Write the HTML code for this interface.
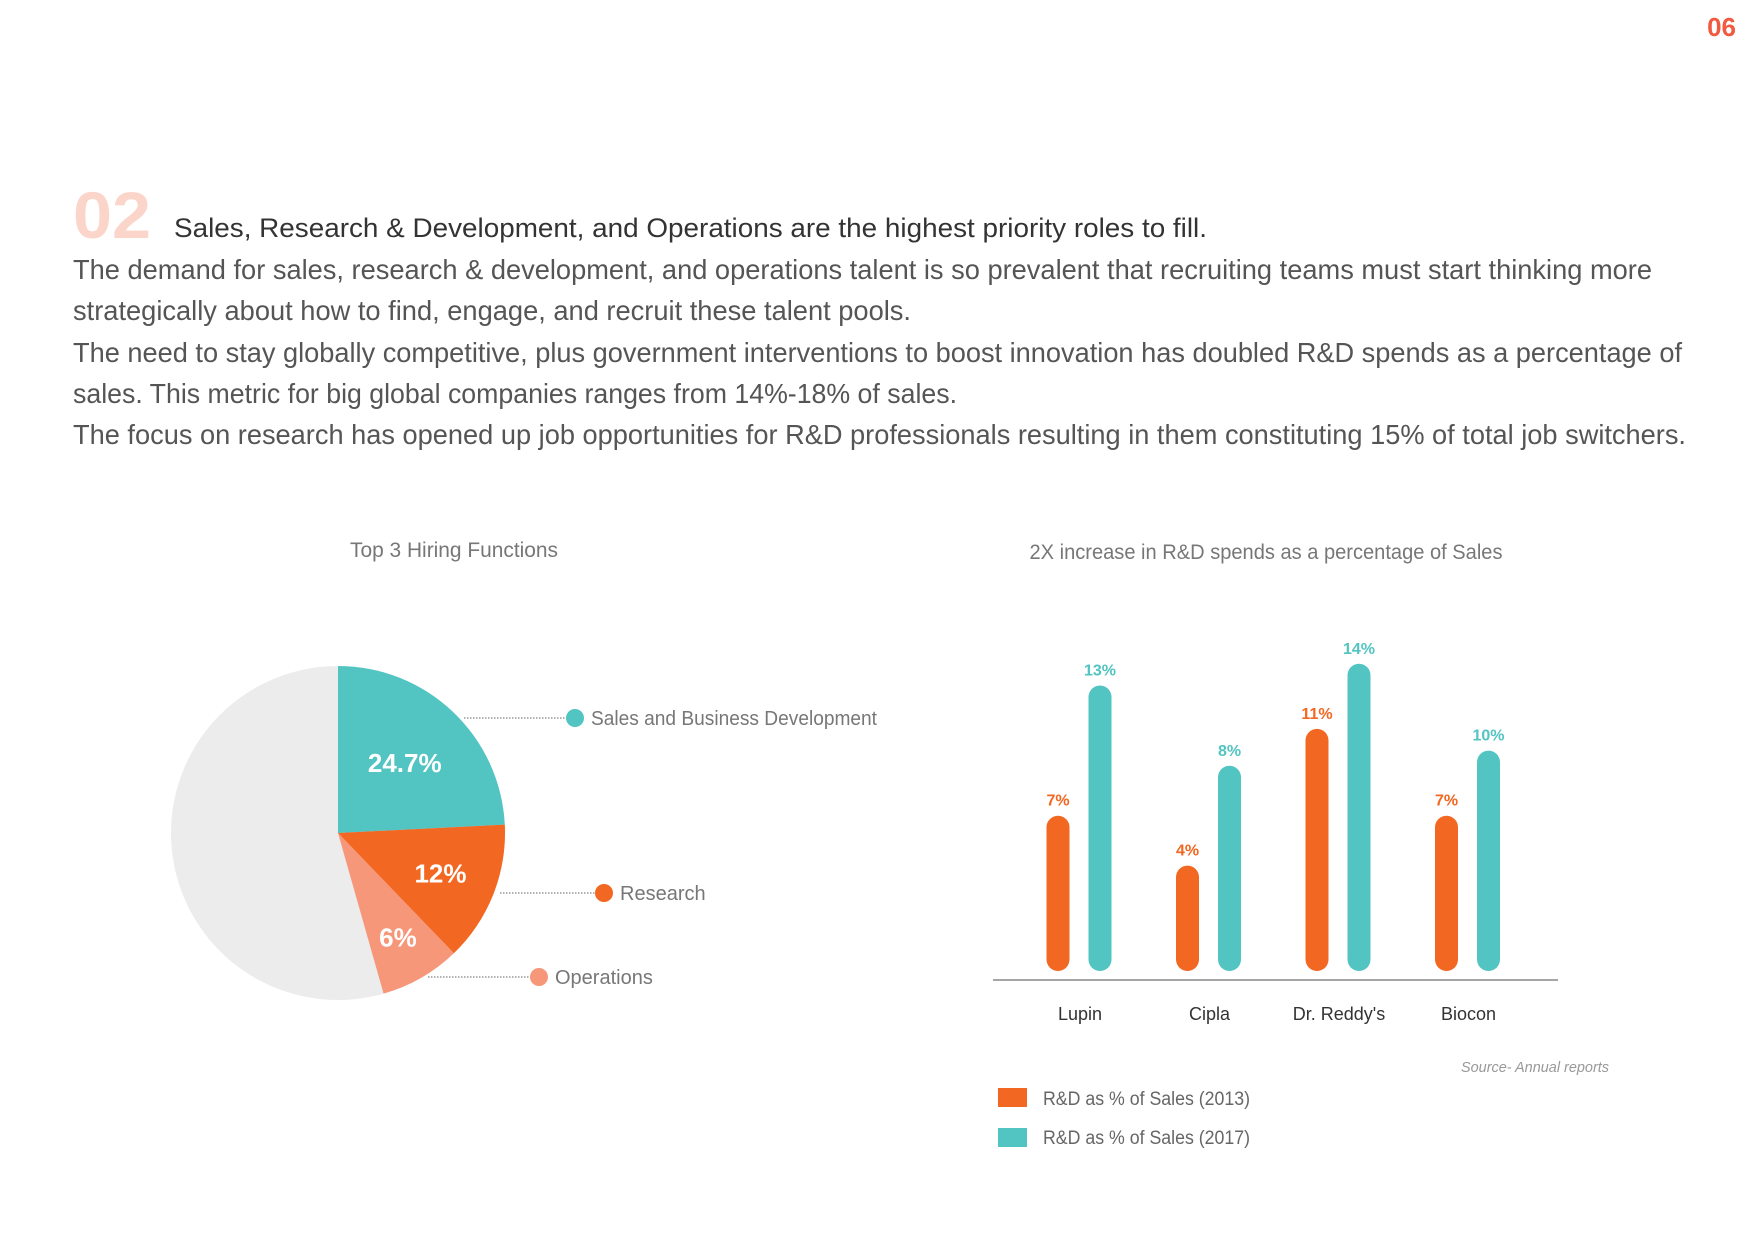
<!DOCTYPE html>
<html><head><meta charset="utf-8"><style>
html,body{margin:0;padding:0;background:#fff;}
svg{display:block;font-family:"Liberation Sans",sans-serif;}
</style></head><body>
<svg width="1754" height="1240" viewBox="0 0 1754 1240">
<text x="1736" y="36" text-anchor="end" font-size="26" font-weight="bold" fill="#f15a3f">06</text>
<text x="73" y="238" font-size="66" font-weight="bold" fill="#fbd5c9" textLength="78" lengthAdjust="spacingAndGlyphs">02</text>
<text x="174" y="237" font-size="27" fill="#333" textLength="1033" lengthAdjust="spacingAndGlyphs">Sales, Research &amp; Development, and Operations are the highest priority roles to fill.</text>
<g font-size="28" fill="#555" font-weight="300">
<text x="73" y="279" textLength="1579" lengthAdjust="spacingAndGlyphs">The demand for sales, research &amp; development, and operations talent is so prevalent that recruiting teams must start thinking more</text>
<text x="73" y="320" textLength="838" lengthAdjust="spacingAndGlyphs">strategically about how to find, engage, and recruit these talent pools.</text>
<text x="73" y="362" textLength="1609" lengthAdjust="spacingAndGlyphs">The need to stay globally competitive, plus government interventions to boost innovation has doubled R&amp;D spends as a percentage of</text>
<text x="73" y="403" textLength="884" lengthAdjust="spacingAndGlyphs">sales. This metric for big global companies ranges from 14%-18% of sales.</text>
<text x="73" y="444" textLength="1613" lengthAdjust="spacingAndGlyphs">The focus on research has opened up job opportunities for R&amp;D professionals resulting in them constituting 15% of total job switchers.</text>
</g>
<text x="454" y="557" text-anchor="middle" font-size="21" fill="#777" textLength="208" lengthAdjust="spacingAndGlyphs">Top 3 Hiring Functions</text>
<text x="1266" y="559" text-anchor="middle" font-size="21" fill="#777" textLength="473" lengthAdjust="spacingAndGlyphs">2X increase in R&amp;D spends as a percentage of Sales</text>
<g id="pie"></g>
<g id="bars"></g>
<line x1="993" y1="980" x2="1558" y2="980" stroke="#888" stroke-width="1.5"/>
<text x="1609" y="1072" text-anchor="end" font-size="15" font-style="italic" fill="#999" textLength="148" lengthAdjust="spacingAndGlyphs">Source- Annual reports</text>
<g>
<rect x="998" y="1088" width="29" height="19" fill="#f26722"/>
<text x="1043" y="1105" font-size="19" fill="#666" textLength="207" lengthAdjust="spacingAndGlyphs">R&amp;D as % of  Sales (2013)</text>
<rect x="998" y="1128" width="29" height="19" fill="#52c4c2"/>
<text x="1043" y="1144" font-size="19" fill="#666" textLength="207" lengthAdjust="spacingAndGlyphs">R&amp;D as %  of Sales (2017)</text>
</g>
</svg>
<script>
const NS='http://www.w3.org/2000/svg';
const pieLabels=['Sales and Business Development','Research','Operations'];
const pieValues=[24.2,13.6,7.8];
const pieTexts=['24.7%','12%','6%'];
const categories=['Lupin','Cipla',"Dr. Reddy's",'Biocon'];
const values2013=[7,4.7,11,7];
const values2017=[13,9.3,14,10];
const labels2013=['7%','4%','11%','7%'];
const labels2017=['13%','8%','14%','10%'];

function mk(tag,attrs,parent){const e=document.createElementNS(NS,tag);for(const k in attrs)e.setAttribute(k,attrs[k]);parent.appendChild(e);return e;}
const pie=document.getElementById('pie');
const cx=338,cy=833,r=167;
const colors=['#52c4c2','#f26722','#f7977a'];
const pt=(a,rr)=>[cx+rr*Math.sin(a),cy-rr*Math.cos(a)];
const bg=mk('circle',{cx:cx,cy:cy,r:r,fill:'#ececec'},pie);


let acc=0;
const leaderY=[718,893,977],leaderX1=[464,500,428],dotX=[575,604,539],labelW=[286,0,0];
const labelR=[0.58,0.66,0.72];
pieValues.forEach((v,i)=>{
  const a0=acc/100*2*Math.PI; acc+=v; const a1=acc/100*2*Math.PI;
  const p0=pt(a0,r),p1=pt(a1,r);
  const s=mk('path',{d:`M${cx},${cy}L${p0[0]},${p0[1]}A${r},${r} 0 ${a1-a0>Math.PI?1:0} 1 ${p1[0]},${p1[1]}Z`,fill:colors[i]},pie);
  
  
  const am=(a0+a1)/2;
  const lp=pt(am,r*labelR[i]);
  const t=mk('text',{x:lp[0],y:lp[1]+9,'text-anchor':'middle','font-size':26,'font-weight':'bold',fill:'#fff'},pie);
  t.textContent=pieTexts[i];
  
  
  const l=mk('line',{x1:leaderX1[i],y1:leaderY[i],x2:dotX[i]-8,y2:leaderY[i],stroke:'#666','stroke-width':1,'stroke-dasharray':'1.5 1.5'},pie);
  
  
  const d=mk('circle',{cx:dotX[i],cy:leaderY[i],r:9,fill:colors[i]},pie);
  
  
  const la={x:dotX[i]+16,y:leaderY[i]+7,'font-size':20,fill:'#777'};
  if(labelW[i]){la.textLength=labelW[i];la.lengthAdjust='spacingAndGlyphs';}
  const lt=mk('text',la,pie);
  lt.textContent=pieLabels[i];
  
  
});
const bars=document.getElementById('bars');
const y0=967.6,unit=21.7,bottom=971,bw=23;
const yv=v=>y0-unit*v;
const groupX=i=>1079+i*129.5;
categories.forEach((c,i)=>{
  const gx=groupX(i);
  [[values2013,labels2013,'#f26722',-21,'2013'],[values2017,labels2017,'#52c4c2',21,'2017']].forEach(([vals,labs,col,off,yr])=>{
    const x=gx+off-bw/2, top=yv(vals[i]);
    const b=mk('rect',{x:x,y:top,width:bw,height:bottom-top,rx:bw/2,fill:col},bars);
    
    
    const t=mk('text',{x:gx+off,y:top-10,'text-anchor':'middle','font-size':16,'font-weight':'bold',fill:col},bars);
    t.textContent=labs[i];
    
    
  });
  const ct=mk('text',{x:gx+1,y:1020,'text-anchor':'middle','font-size':18,fill:'#333'},bars);
  ct.textContent=c;
  
  
});
</script>
</body></html>
